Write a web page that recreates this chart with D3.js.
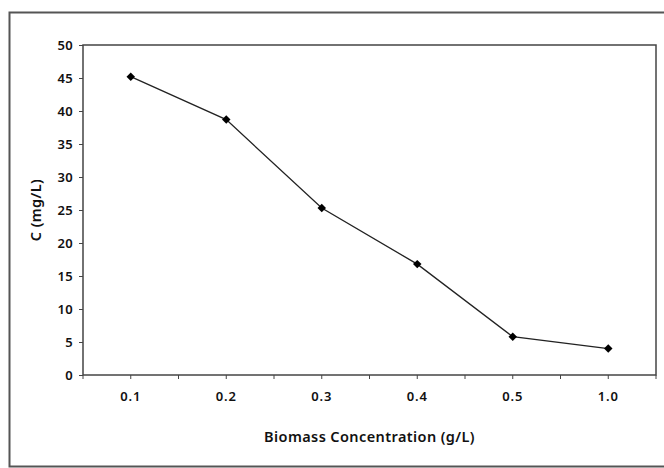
<!DOCTYPE html>
<html>
<head>
<meta charset="utf-8">
<script src="https://cdn.jsdelivr.net/npm/d3@7"></script>
<style>
  body { margin: 0; background: #fff; }
  svg text { font-family: "Noto Sans", sans-serif; font-weight: 600; fill: #111; }
</style>
</head>
<body>
<div id="chart"></div>
<script>
// biomass concentration categories (g/L) and C (mg/L)
const categories = ["0.1", "0.2", "0.3", "0.4", "0.5", "1.0"];
const values = [45.2, 38.7, 25.3, 16.8, 5.8, 4.0];
const yTicks = [0, 5, 10, 15, 20, 25, 30, 35, 40, 45, 50];

const width = 664, height = 468;
const plot = {left: 83, top: 45, right: 656, bottom: 375};

const svg = d3.select("#chart").append("svg")
    .attr("width", width)
    .attr("height", height);

// outer frame (right edge falls outside the picture)
svg.append("rect")
    .attr("x", 9.5).attr("y", 12.5)
    .attr("width", 700).attr("height", 454)
    .attr("fill", "none")
    .attr("stroke", "#555")
    .attr("stroke-width", 2);

let x = d3.scaleBand()
    .domain(categories)
    .range([plot.left, plot.right]);

let y = d3.scaleLinear()
    .domain([0, 50])
    .range([plot.bottom, plot.top]);

// plot area
svg.append("rect")
    .attr("x", plot.left).attr("y", plot.top)
    .attr("width", plot.right - plot.left)
    .attr("height", plot.bottom - plot.top)
    .attr("fill", "none")
    .attr("stroke", "#444")
    .attr("stroke-width", 1.5);

// y axis
let yAxis = svg.append("g")
    .attr("transform", `translate(${plot.left},0)`)
    .call(d3.axisLeft(y).tickValues(yTicks).tickSize(4).tickPadding(6));
yAxis.select(".domain").remove();
yAxis.selectAll("line").attr("stroke", "#444");
yAxis.selectAll("text").style("font-size", "13px").style("letter-spacing", "0.3px");

// x axis: labels at band centres, ticks at centres and band edges
let xAxis = svg.append("g")
    .attr("transform", `translate(0,${plot.bottom})`)
    .call(d3.axisBottom(x).tickSize(4).tickPadding(13));
xAxis.select(".domain").remove();
xAxis.selectAll("line").attr("stroke", "#444");
xAxis.selectAll("text").style("font-size", "13px").style("letter-spacing", "0.8px");

let edges = categories.map(c => x(c)).concat([plot.right]);
xAxis.selectAll(".edge")
    .data(edges)
    .enter().append("line")
    .attr("class", "edge")
    .attr("x1", d => d).attr("x2", d => d)
    .attr("y1", 0).attr("y2", 4)
    .attr("stroke", "#444");

// line
let cx = (d, i) => x(categories[i]) + x.bandwidth() / 2;
let valueLine = d3.line()
    .x(cx)
    .y(d => y(d));

svg.append("path")
    .datum(values)
    .attr("d", valueLine)
    .attr("fill", "none")
    .attr("stroke", "#222")
    .attr("stroke-width", 1.3);

svg.selectAll(".pt")
    .data(values)
    .enter().append("path")
    .attr("class", "pt")
    .attr("transform", (d, i) => `translate(${cx(d, i)},${y(d)}) rotate(45)`)
    .attr("d", d3.symbol(d3.symbolSquare, 36))
    .attr("fill", "#000");

// axis titles
svg.append("text")
    .attr("x", (plot.left + plot.right) / 2)
    .attr("y", 442)
    .attr("text-anchor", "middle")
    .style("font-size", "14.5px")
    .style("letter-spacing", "0.4px")
    .text("Biomass Concentration (g/L)");

svg.append("text")
    .attr("transform", `translate(41,${(plot.top + plot.bottom) / 2}) rotate(-90)`)
    .attr("text-anchor", "middle")
    .style("font-size", "14.5px")
    .style("letter-spacing", "0.4px")
    .text("C (mg/L)");
</script>
</body>
</html>
